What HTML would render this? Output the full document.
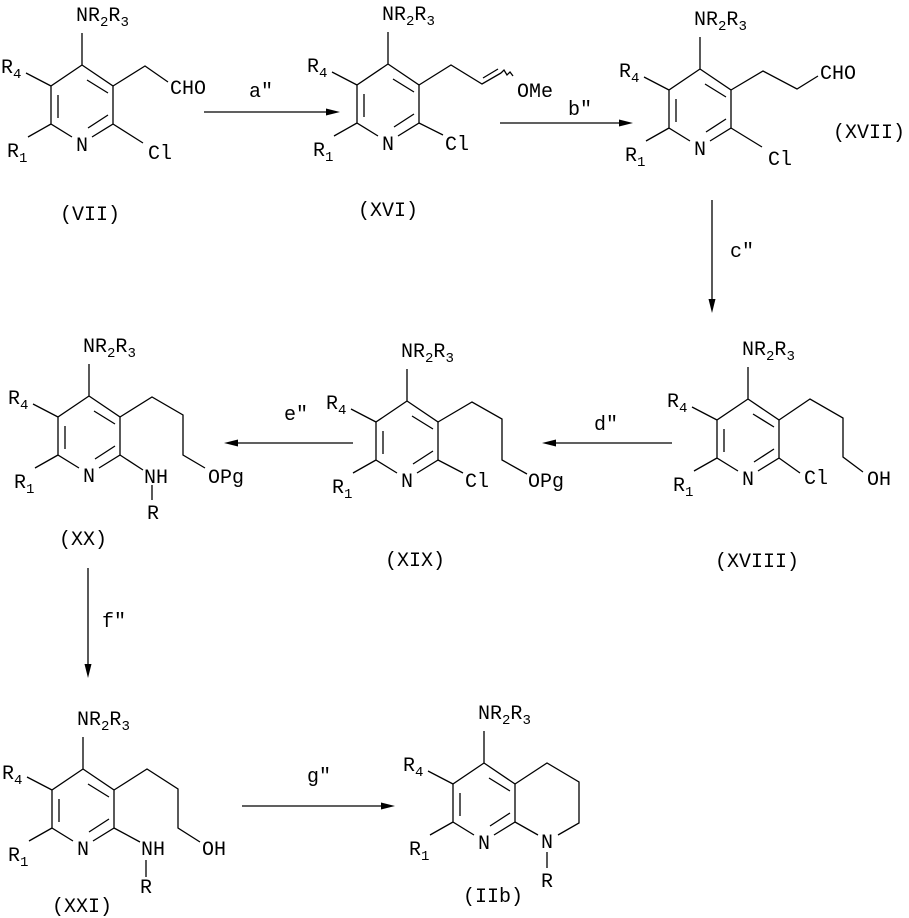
<!DOCTYPE html>
<html><head><meta charset="utf-8"><style>
html,body{margin:0;padding:0;background:#fff;}
svg{display:block;}
text{font-family:"Liberation Mono","DejaVu Sans Mono",monospace;font-size:20px;fill:#000;}
.s{font-size:14px;}
path{stroke:#000;stroke-width:1.3;fill:none;}
</style></head><body>
<svg width="909" height="918" viewBox="0 0 909 918" xmlns="http://www.w3.org/2000/svg">
<!-- (VII) -->
<g transform="translate(82,65)">
<path d="M0 0L31 21L31 59L10 72M-10 72L-31 59L-31 21L0 0M5 15L26 28M-24 30L-24 53M26 50L6 63M0 0V-32M-31 21L-56 8M-31 59L-54 72"/>
<text x="-6" y="86">N</text>
<text x="-6" y="-44">NR<tspan class="s" dy="5">2</tspan><tspan dy="-5">R</tspan><tspan class="s" dy="5">3</tspan></text>
<text x="-81" y="8">R<tspan class="s" dy="5">4</tspan></text>
<text x="-75" y="92">R<tspan class="s" dy="5">1</tspan></text>
<path d="M31 21L63 1L86 17M31 59L61 78"/>
<text x="88" y="29">CHO</text>
<text x="66" y="94">Cl</text>
</g>
<text x="60" y="220">(VII)</text>
<!-- (XVI) -->
<g transform="translate(388,64)">
<path d="M0 0L31 21L31 59L10 72M-10 72L-31 59L-31 21L0 0M5 15L26 28M-24 30L-24 53M26 50L6 63M0 0V-32M-31 21L-56 8M-31 59L-54 72"/>
<text x="-6" y="86">N</text>
<text x="-6" y="-44">NR<tspan class="s" dy="5">2</tspan><tspan dy="-5">R</tspan><tspan class="s" dy="5">3</tspan></text>
<text x="-81" y="8">R<tspan class="s" dy="5">4</tspan></text>
<text x="-75" y="92">R<tspan class="s" dy="5">1</tspan></text>
<path d="M31 21L63 1L94 20L113 9M95 14L110 5M113 9L116 6L119 11L122 8L125 12M31 59L55 71"/>
<text x="129" y="33">OMe</text>
<text x="57" y="86">Cl</text>
</g>
<text x="358" y="216">(XVI)</text>
<!-- (XVII) -->
<g transform="translate(700,69)">
<path d="M0 0L31 21L31 59L10 72M-10 72L-31 59L-31 21L0 0M5 15L26 28M-24 30L-24 53M26 50L6 63M0 0V-32M-31 21L-56 8M-31 59L-54 72"/>
<text x="-6" y="86">N</text>
<text x="-6" y="-44">NR<tspan class="s" dy="5">2</tspan><tspan dy="-5">R</tspan><tspan class="s" dy="5">3</tspan></text>
<text x="-81" y="8">R<tspan class="s" dy="5">4</tspan></text>
<text x="-75" y="92">R<tspan class="s" dy="5">1</tspan></text>
<path d="M31 21L63 2L97 20L118 7M31 59L62 78"/>
<text x="120" y="10">CHO</text>
<text x="68" y="96">Cl</text>
</g>
<text x="833" y="138">(XVII)</text>
<!-- (XVIII) -->
<g transform="translate(748,399)">
<path d="M0 0L31 21L31 59L10 72M-10 72L-31 59L-31 21L0 0M5 15L26 28M-24 30L-24 53M26 50L6 63M0 0V-32M-31 21L-56 8M-31 59L-54 72"/>
<text x="-6" y="86">N</text>
<text x="-6" y="-44">NR<tspan class="s" dy="5">2</tspan><tspan dy="-5">R</tspan><tspan class="s" dy="5">3</tspan></text>
<text x="-81" y="8">R<tspan class="s" dy="5">4</tspan></text>
<text x="-75" y="92">R<tspan class="s" dy="5">1</tspan></text>
<path d="M31 21L62 0L95 19L95 58L115 73M31 59L52 74"/>
<text x="119" y="86">OH</text>
<text x="56" y="85">Cl</text>
</g>
<text x="715" y="567">(XVIII)</text>
<!-- (XIX) -->
<g transform="translate(407,401)">
<path d="M0 0L31 21L31 59L10 72M-10 72L-31 59L-31 21L0 0M5 15L26 28M-24 30L-24 53M26 50L6 63M0 0V-32M-31 21L-56 8M-31 59L-54 72"/>
<text x="-6" y="86">N</text>
<text x="-6" y="-44">NR<tspan class="s" dy="5">2</tspan><tspan dy="-5">R</tspan><tspan class="s" dy="5">3</tspan></text>
<text x="-81" y="8">R<tspan class="s" dy="5">4</tspan></text>
<text x="-75" y="92">R<tspan class="s" dy="5">1</tspan></text>
<path d="M31 21L65 1L95 18L95 59L120 73M31 59L56 72"/>
<text x="121" y="86">OPg</text>
<text x="58" y="86">Cl</text>
</g>
<text x="385" y="566">(XIX)</text>
<!-- (XX) -->
<g transform="translate(89,396)">
<path d="M0 0L31 21L31 59L10 72M-10 72L-31 59L-31 21L0 0M5 15L26 28M-24 30L-24 53M26 50L6 63M0 0V-32M-31 21L-56 8M-31 59L-54 72"/>
<text x="-6" y="86">N</text>
<text x="-6" y="-44">NR<tspan class="s" dy="5">2</tspan><tspan dy="-5">R</tspan><tspan class="s" dy="5">3</tspan></text>
<text x="-81" y="8">R<tspan class="s" dy="5">4</tspan></text>
<text x="-75" y="92">R<tspan class="s" dy="5">1</tspan></text>
<path d="M31 21L63 1L94 19L94 59L116 72M31 59L54 74M63 89V104"/>
<text x="119" y="87">OPg</text>
<text x="55" y="87">NH</text>
<text x="58" y="123">R</text>
</g>
<text x="59" y="545">(XX)</text>
<!-- (XXI) -->
<g transform="translate(83,769)">
<path d="M0 0L31 21L31 59L10 72M-10 72L-31 59L-31 21L0 0M5 15L26 28M-24 30L-24 53M26 50L6 63M0 0V-32M-31 21L-56 8M-31 59L-54 72"/>
<text x="-6" y="86">N</text>
<text x="-6" y="-44">NR<tspan class="s" dy="5">2</tspan><tspan dy="-5">R</tspan><tspan class="s" dy="5">3</tspan></text>
<text x="-81" y="10">R<tspan class="s" dy="5">4</tspan></text>
<text x="-75" y="92">R<tspan class="s" dy="5">1</tspan></text>
<path d="M31 21L64 0L95 20L95 59L117 73M31 59L57 73M63 91V108"/>
<text x="119" y="86">OH</text>
<text x="58" y="86">NH</text>
<text x="57" y="124">R</text>
</g>
<text x="52" y="912">(XXI)</text>
<!-- (IIb) -->
<g transform="translate(484,763)">
<path d="M0 0L31 21L31 59L10 72M-10 72L-31 59L-31 21L0 0M5 15L26 28M-24 30L-24 53M26 50L6 63M0 0V-32M-31 21L-56 8M-31 59L-54 72"/>
<text x="-6" y="86">N</text>
<text x="-6" y="-44">NR<tspan class="s" dy="5">2</tspan><tspan dy="-5">R</tspan><tspan class="s" dy="5">3</tspan></text>
<text x="-81" y="8">R<tspan class="s" dy="5">4</tspan></text>
<text x="-75" y="92">R<tspan class="s" dy="5">1</tspan></text>
<path d="M31 21L63 0L95 19L95 60L74 72M31 59L54 72M63 89V105"/>
<text x="57" y="85">N</text>
<text x="57" y="124">R</text>
</g>
<text x="463" y="902">(IIb)</text>
<!-- arrows -->
<path d="M204 112H328M500 123H621M712 200V301M672 443H554M353 443H236M88 568V666M242 806H383"/>
<polygon points="340,112 326,108.5 326,115.5"/>
<polygon points="633,123 619,119.5 619,126.5"/>
<polygon points="712,313 708.5,299 715.5,299"/>
<polygon points="542,443 556,439.5 556,446.5"/>
<polygon points="224,443 238,439.5 238,446.5"/>
<polygon points="88,678 84.5,664 91.5,664"/>
<polygon points="395,806 381,802.5 381,809.5"/>
<text x="249" y="97">a"</text>
<text x="568" y="115">b"</text>
<text x="730" y="257">c"</text>
<text x="594" y="430">d"</text>
<text x="284" y="420">e"</text>
<text x="102" y="627">f"</text>
<text x="307" y="782">g"</text>
</svg>
</body></html>
